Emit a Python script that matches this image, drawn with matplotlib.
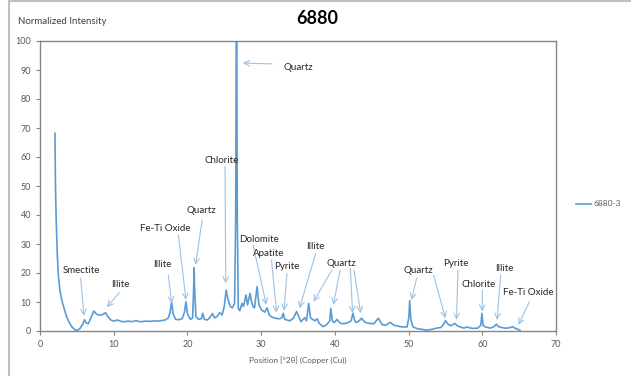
import numpy as np
import matplotlib
matplotlib.use("Agg")
from matplotlib import pyplot as plt
from matplotlib.lines import Line2D

# diffraction pattern
two_theta = [2.03, 2.1, 2.2, 2.35, 2.5, 2.7, 2.95, 3.3, 3.6, 3.95, 4.3, 4.7, 5.0, 5.4, 5.8,
             6.05, 6.25, 6.55, 6.9, 7.3, 7.6, 7.9, 8.4, 8.9, 9.2, 9.6, 10.0, 10.5, 11.0,
             11.5, 12.0, 12.5, 13.0, 13.5, 14.0, 14.5, 15.0, 15.5, 16.0, 16.5, 17.0, 17.4,
             17.65, 17.85, 18.05, 18.4, 18.9, 19.3, 19.6, 19.8, 20.0, 20.4, 20.7, 20.85,
             20.9, 20.98, 21.15, 21.5, 21.9, 22.07, 22.3, 22.7, 23.0, 23.4, 23.7, 24.0,
             24.4, 24.7, 25.0, 25.25, 25.5, 25.8, 26.1, 26.4, 26.55, 26.62, 26.7, 26.76,
             26.9, 27.1, 27.4, 27.6, 27.95, 28.15, 28.5, 28.7, 28.9, 29.1, 29.45, 29.7,
             30.07, 30.5, 30.8, 31.1, 31.4, 31.9, 32.4, 32.8, 33.0, 33.2, 33.9, 34.4, 34.8,
             35.1, 35.4, 35.9, 36.15, 36.45, 36.7, 37.0, 37.3, 37.6, 37.9, 38.4, 38.9,
             39.3, 39.45, 39.65, 39.9, 40.3, 40.6, 40.9, 41.4, 41.9, 42.2, 42.45, 42.7,
             42.9, 43.3, 43.6, 44.1, 44.7, 45.3, 45.9, 46.4, 46.9, 47.5, 48.0, 48.4, 48.9,
             49.3, 49.8, 50.05, 50.15, 50.3, 50.6, 51.2, 52.0, 52.5, 53.2, 53.8, 54.4,
             54.8, 55.0, 55.3, 55.7, 56.3, 56.6, 57.0, 57.5, 57.9, 58.4, 58.8, 59.4, 59.8,
             59.95, 60.1, 60.4, 61.1, 61.6, 61.9, 62.2, 62.5, 63.0, 63.4, 63.8, 64.1, 64.4,
             64.7, 65.1]
intensity = [68.2, 50, 38, 26, 19, 14, 10.7, 7.5, 5.0, 3.0, 1.5, 0.5, 0.2, 0.8, 2.3,
             3.9, 2.8, 2.5, 4.5, 6.9, 6.0, 5.5, 5.6, 6.3, 5.0, 3.8, 3.4, 3.8, 3.3,
             3.2, 3.4, 3.2, 3.6, 3.2, 3.3, 3.4, 3.3, 3.5, 3.4, 3.6, 3.8, 4.5,
             6.5, 10.1, 6.0, 4.0, 3.9, 4.3, 6.5, 10.1, 6.0, 4.0, 4.5, 15,
             21.8, 14, 5.0, 4.0, 4.3, 6.1, 4.0, 3.8, 4.5, 6.0, 4.5, 5.0,
             6.3, 5.5, 8.5, 14.1, 11, 8.5, 8.0, 9.5, 40, 100, 100, 40,
             7.8, 7.0, 9.5, 8.5, 12.4, 9, 13, 10, 8.5, 8.0, 15.3, 9,
             7.2, 6.5, 8.0, 5.5, 4.9, 4.4, 4.2, 4.5, 6.1, 4.0, 3.5, 4.5, 6.7,
             5.0, 3.2, 4.6, 3.5, 9.5, 4.5, 4.0, 3.5, 4.2, 2.6, 1.5, 2.2,
             3.5, 7.8, 3.5, 2.9, 4.0, 3.0, 2.5, 2.6, 3.0, 3.5, 6.1, 3.5,
             2.9, 3.5, 4.4, 3.0, 2.6, 2.5, 4.4, 2.2, 2.0, 3.0, 2.0, 1.8, 1.5,
             1.4, 1.4, 5, 10.5, 4, 1.4, 0.8, 0.5, 0.3, 0.6, 1.0, 1.2,
             2.5, 3.6, 2.5, 1.8, 2.6, 1.8, 1.4, 1.0, 1.4, 1.0, 0.9, 1.0, 2.0,
             6.1, 2.0, 1.4, 1.0, 1.5, 2.4, 1.5, 1.3, 1.0, 1.0, 1.2, 1.5, 1.0,
             0.7, 0.3]

# phase labels: text position, then arrow (start, tip) pairs
labels = ["Quartz", "Smectite", "Illite", "Illite", "Fe-Ti Oxide", "Quartz", "Chlorite",
          "Dolomite", "Apatite", "Pyrite", "Illite", "Quartz", "Quartz", "Pyrite",
          "Chlorite", "Illite", "Fe-Ti Oxide"]
label_pos = [(35.1, 91.0), (5.56, 20.7), (10.85, 16.2), (16.6, 22.8), (17.05, 35.4),
             (21.84, 41.4), (24.7, 58.7), (29.7, 31.7), (30.97, 26.8), (33.55, 22.2),
             (37.4, 29.1), (40.9, 23.3), (51.3, 20.7), (56.4, 23.3), (59.5, 16.1),
             (62.95, 21.4), (66.25, 13.3)]
arrows = [
    [((31.5, 92.1), (27.5, 92.4))],
    [((5.52, 18.2), (5.97, 5.2))],
    [((10.76, 13.2), (9.05, 8.2))],
    [((17.4, 19.3), (17.87, 9.5))],
    [((18.77, 33.1), (19.8, 10.7))],
    [((22.0, 38.3), (21.1, 22.8))],
    [((25.1, 56.7), (25.2, 16.4))],
    [((28.9, 29.7), (30.7, 9.0))],
    [((31.4, 24.5), (32.1, 6.3))],
    [((33.5, 19.9), (33.1, 7.0))],
    [((37.4, 26.8), (35.2, 7.8))],
    [((39.6, 21.0), (37.1, 10.1)), ((40.7, 21.0), (39.8, 9.0)),
     ((42.1, 21.6), (42.4, 6.1)), ((42.6, 21.0), (43.5, 6.1))],
    [((51.1, 18.2), (50.4, 10.7)), ((53.4, 19.3), (55.0, 4.4))],
    [((56.7, 21.0), (56.5, 3.8))],
    [((60.0, 14.1), (60.0, 6.7))],
    [((62.5, 19.3), (62.0, 3.8))],
    [((66.4, 10.1), (64.9, 2.1))],
]

plt.rcParams['font.family'] = ['Lato', 'DejaVu Sans']

fig = plt.figure(figsize=(6.31, 3.76), dpi=100)
ax = fig.add_axes([40/631, 1-331/376, 516/631, 290/376])

line_col = '#5b9bd5'
ax.plot(two_theta, intensity, color=line_col, lw=1.2, label='6880-3', solid_joinstyle='round')

for lab, pos, arr in zip(labels, label_pos, arrows):
    ax.text(pos[0], pos[1], lab, fontsize=7, color='#262626', ha='center', va='center')
    for start, tip in arr:
        ax.annotate('', xy=tip, xytext=start,
                    arrowprops=dict(arrowstyle='->', color='#9dc3e6', lw=0.8,
                                    shrinkA=0, shrinkB=0))

ax.set_xlim(0, 70)
ax.set_ylim(0, 100)
ax.set_xticks(np.arange(0, 71, 10))
ax.set_yticks(np.arange(0, 101, 10))
ax.tick_params(axis='both', labelsize=6.5, labelcolor='#595959', color='#868686',
               length=3, width=0.8, direction='out')
for s in ax.spines.values():
    s.set_color('#868686')
    s.set_linewidth(1.0)

ax.set_xlabel('Position [°2θ] (Copper (Cu))', fontsize=5.8, color='#595959', labelpad=5)
fig.text(18/631, 1-22/376, 'Normalized Intensity', fontsize=7, color='#404040',
         ha='left', va='center')
fig.text(317/631, 1-19/376, '6880', fontsize=13, fontweight='bold', color='black',
         ha='center', va='center')

ax.legend(loc='center left', bbox_to_anchor=(1.025, 1-(204-41)/290), frameon=False,
          fontsize=6, handlelength=1.7, handletextpad=0.3, labelcolor='#595959')

# outer chart border (left and top only visible)
fig.add_artist(Line2D([9/631, 9/631], [0, 1], transform=fig.transFigure,
                      color='#bfbfbf', lw=1.5))
fig.add_artist(Line2D([9/631, 1], [1-1/376, 1-1/376], transform=fig.transFigure,
                      color='#bfbfbf', lw=1.5))

fig.savefig('out.png', dpi=100)
